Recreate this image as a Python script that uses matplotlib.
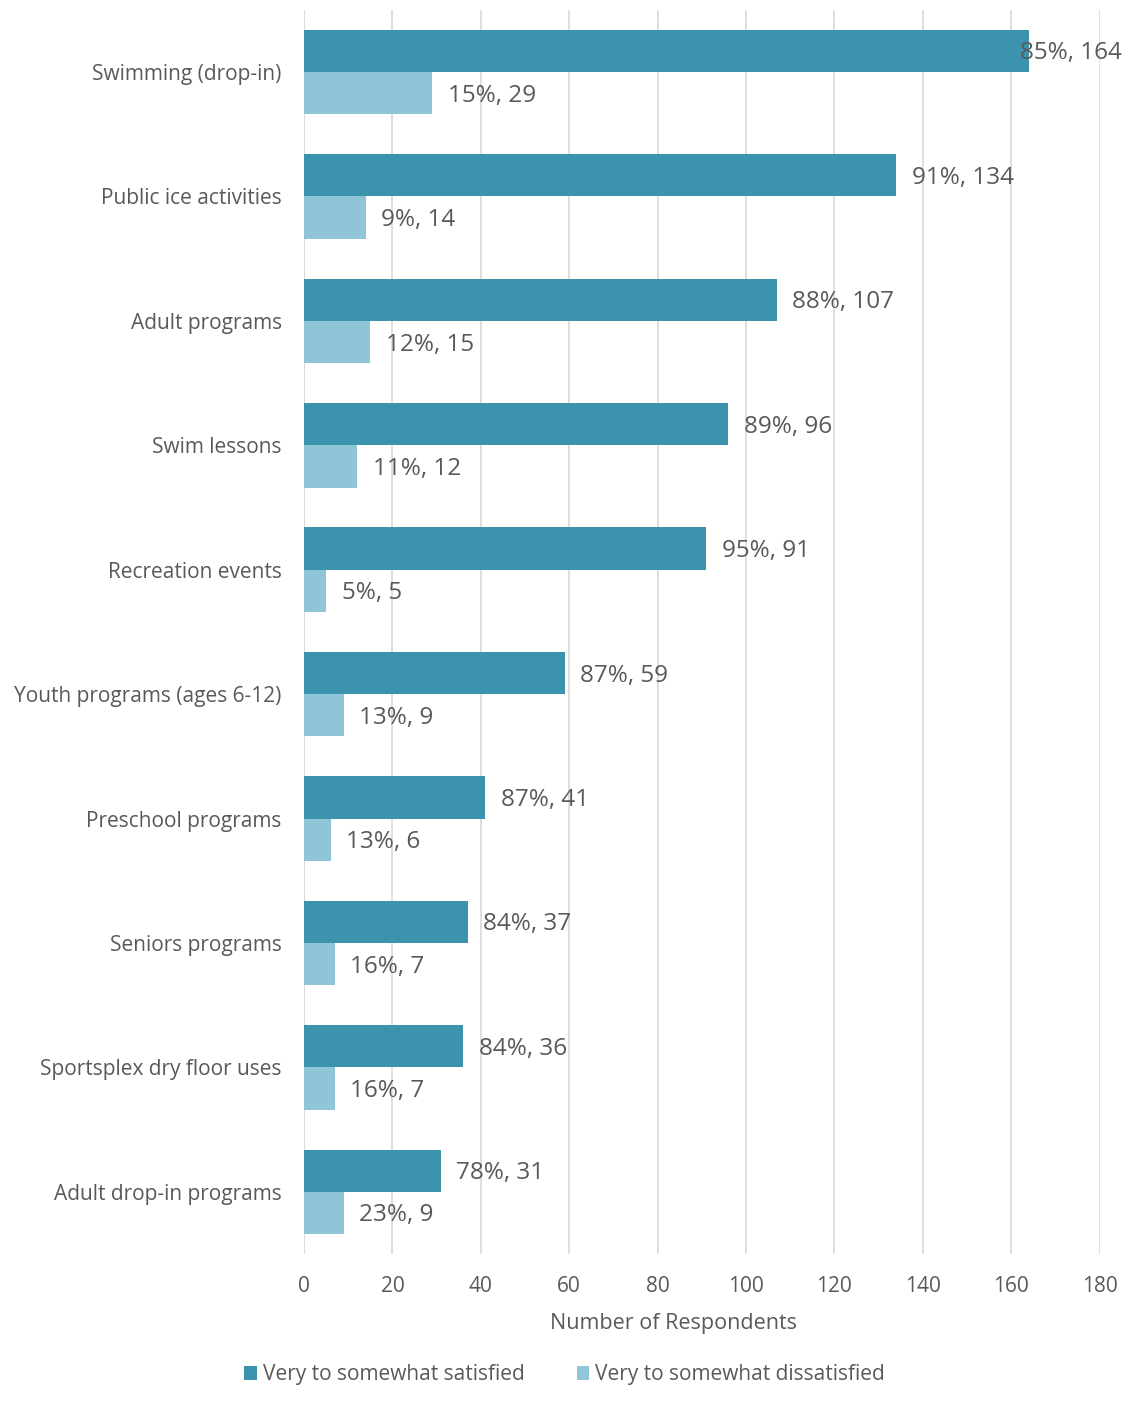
import matplotlib.pyplot as plt
import numpy as np

plt.rcParams['font.family'] = ['Open Sans', 'DejaVu Sans']

categories = ['Swimming (drop-in)', 'Public ice activities', 'Adult programs',
              'Swim lessons', 'Recreation events', 'Youth programs (ages 6-12)',
              'Preschool programs', 'Seniors programs', 'Sportsplex dry floor uses',
              'Adult drop-in programs']
satisfied = [164, 134, 107, 96, 91, 59, 41, 37, 36, 31]
satisfied_pct = [85, 91, 88, 89, 95, 87, 87, 84, 84, 78]
dissatisfied = [29, 14, 15, 12, 5, 9, 6, 7, 7, 9]
dissatisfied_pct = [15, 9, 12, 11, 5, 13, 13, 16, 16, 23]

dark = '#3b93ae'
light = '#90c5d7'
txt = '#595959'

fig = plt.figure(figsize=(11.36, 14.10), dpi=100)
ax = fig.add_axes([0.2676, 0.1106, 0.7004, 0.8824])

y = np.arange(len(categories))
h = 0.34
ax.barh(y - h / 2, satisfied, height=h, color=dark, label='Very to somewhat satisfied', zorder=3)
ax.barh(y + h / 2, dissatisfied, height=h, color=light, label='Very to somewhat dissatisfied', zorder=3)

# data labels: "pct%, count" just past the bar end
for i in range(len(categories)):
    off = -2 if satisfied[i] > 160 else 3.5
    ax.text(satisfied[i] + off, y[i] - h / 2 + 0.02, f'{satisfied_pct[i]}%, {satisfied[i]}',
            va='center', ha='left', fontsize=17.5, color=txt, zorder=4)
    ax.text(dissatisfied[i] + 3.5, y[i] + h / 2 + 0.02, f'{dissatisfied_pct[i]}%, {dissatisfied[i]}',
            va='center', ha='left', fontsize=17.5, color=txt, zorder=4)

ax.set_xlim(0, 180)
ax.set_ylim(len(categories) - 0.5, -0.5)
ax.set_xticks(np.arange(0, 181, 20))
ax.set_yticks(y)
ax.set_yticklabels(categories)
ax.grid(axis='x', color='#d9d9d9', linewidth=1.2, zorder=0)
for s in ax.spines.values():
    s.set_visible(False)
ax.axvline(0, color='#d9d9d9', linewidth=1.2, zorder=1)
ax.tick_params(axis='both', length=0, colors=txt, labelsize=15)
ax.tick_params(axis='x', pad=16)
ax.tick_params(axis='y', pad=16)
ax.set_xlabel('Number of Respondents', fontsize=15.5, color=txt)
ax.xaxis.set_label_coords(0.465, -0.047)

fig.legend(loc='center', bbox_to_anchor=(0.497, 0.025), ncol=2, frameon=False,
           fontsize=15, labelcolor=txt, handlelength=0.6, handleheight=0.6,
           handletextpad=0.3, columnspacing=2.5)

fig.savefig('out.png', dpi=100)
